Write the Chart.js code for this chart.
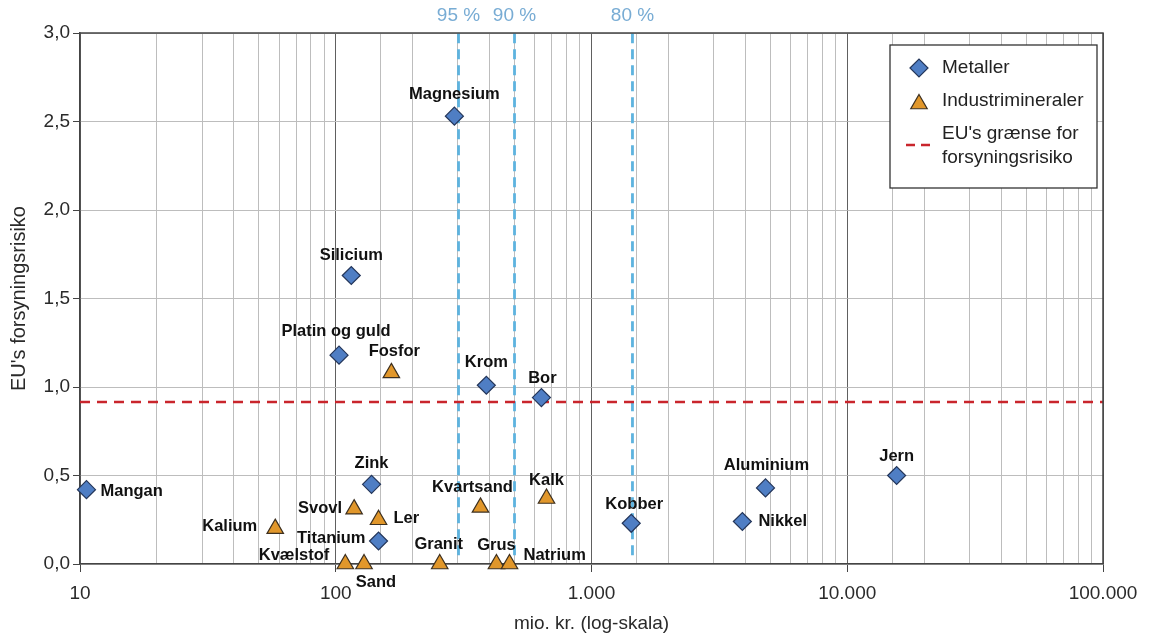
<!DOCTYPE html>
<html>
<head>
<meta charset="utf-8">
<script src="https://cdn.jsdelivr.net/npm/chart.js@4/dist/chart.umd.min.js"></script>
<style>
  html, body { margin: 0; padding: 0; background: #fff; }
  #wrap { width: 1151px; height: 638px; }
</style>
</head>
<body>
<div id="wrap"><canvas id="riskChart" width="1151" height="638"></canvas></div>
<script>
// Metaller
const metalNames = ['Mangan', 'Magnesium', 'Silicium', 'Platin og guld', 'Krom', 'Bor', 'Zink', 'Titanium', 'Kobber', 'Aluminium', 'Nikkel', 'Jern'];
const metalValue = [10.6, 291, 115, 103, 388, 637, 138, 147, 1430, 4790, 3890, 15600];
const metalRisk = [0.42, 2.53, 1.63, 1.18, 1.01, 0.94, 0.45, 0.13, 0.23, 0.43, 0.24, 0.5];

// Industrimineraler
const mineralNames = ['Kalium', 'Svovl', 'Ler', 'Kvælstof', 'Sand', 'Fosfor', 'Granit', 'Kvartsand', 'Kalk', 'Grus', 'Natrium'];
const mineralValue = [58, 118, 147, 109, 129, 165, 255, 368, 667, 425, 478];
const mineralRisk = [0.2, 0.31, 0.25, 0, 0, 1.08, 0, 0.32, 0.37, 0, 0];

// EU's grænse og percentiler
const euLimit = 0.915;
const percentileLabels = ['95 %', '90 %', '80 %'];
const percentileValues = [302, 500, 1446];

// akser
const xMin = 10, xMax = 100000;
const yMin = 0, yMax = 3;
const yTickStep = 0.5;

// label placering: [dx, dy, align]
const labelPos = {
  'Mangan': [14, 2, 'left'],
  'Magnesium': [0, -22, 'center'],
  'Silicium': [0, -20, 'center'],
  'Platin og guld': [-3, -24, 'center'],
  'Krom': [0, -23, 'center'],
  'Bor': [1, -19, 'center'],
  'Zink': [0, -21, 'center'],
  'Titanium': [-13, -3, 'right'],
  'Kobber': [3, -19, 'center'],
  'Aluminium': [1, -22, 'center'],
  'Nikkel': [16, 0, 'left'],
  'Jern': [0, -19, 'center'],
  'Kalium': [-18, -2, 'right'],
  'Svovl': [-12, -1, 'right'],
  'Ler': [15, -1, 'left'],
  'Kvælstof': [-16, -9, 'right'],
  'Sand': [12, 18, 'center'],
  'Fosfor': [3, -21, 'center'],
  'Granit': [-1, -20, 'center'],
  'Kvartsand': [-8, -20, 'center'],
  'Kalk': [0, -18, 'center'],
  'Grus': [0, -19, 'center'],
  'Natrium': [14, -9, 'left'],
};

const FONT = "'Liberation Sans', Arial, sans-serif";
const metalFill = '#4f7ec4';
const metalBorder = '#24365a';
const mineralFill = '#e1972b';
const mineralBorder = '#3d3020';
const euColor = '#c9252c';
const pctColor = '#5db3df';
const pctTextColor = '#78acd4';

function isDecade(v) {
  const l = Math.log10(v);
  return Math.abs(l - Math.round(l)) < 1e-6;
}

function fmtThousands(v) {
  return Math.round(v).toString().replace(/\B(?=(\d{3})+(?!\d))/g, '.');
}

// punkt labels + percentil tekst
const labelPlugin = {
  id: 'pointLabels',
  afterDatasetsDraw(chart) {
    const ctx = chart.ctx;
    ctx.save();
    ctx.font = 'bold 16.5px ' + FONT;
    ctx.fillStyle = '#111';
    ctx.textBaseline = 'middle';
    [0, 1].forEach((di) => {
      const meta = chart.getDatasetMeta(di);
      const names = di === 0 ? metalNames : mineralNames;
      meta.data.forEach((pt, i) => {
        const p = labelPos[names[i]] || [0, -20, 'center'];
        ctx.textAlign = p[2];
        ctx.fillText(names[i], pt.x + p[0], pt.y + p[1]);
      });
    });

    ctx.font = '19px ' + FONT;
    ctx.fillStyle = pctTextColor;
    ctx.textAlign = 'center';
    percentileValues.forEach((v, i) => {
      const x = chart.scales.x.getPixelForValue(v);
      ctx.fillText(percentileLabels[i], x, 16);
    });

    // ramme top og højre
    const a = chart.chartArea;
    ctx.strokeStyle = '#444';
    ctx.lineWidth = 1.5;
    ctx.beginPath();
    ctx.moveTo(a.left, a.top);
    ctx.lineTo(a.right, a.top);
    ctx.lineTo(a.right, a.bottom);
    ctx.stroke();
    ctx.restore();
  },
};

// forklaring med boks
const legendPlugin = {
  id: 'boxLegend',
  afterDraw(chart) {
    const ctx = chart.ctx;
    const bx = 890, by = 45, bw = 207, bh = 143;
    ctx.save();
    ctx.fillStyle = '#fff';
    ctx.fillRect(bx, by, bw, bh);
    ctx.strokeStyle = '#333';
    ctx.lineWidth = 1.3;
    ctx.strokeRect(bx, by, bw, bh);

    const mx = 919, tx = 942;
    ctx.font = '19px ' + FONT;
    ctx.textBaseline = 'middle';
    ctx.textAlign = 'left';

    const d0 = chart.data.datasets[0];
    const d1 = chart.data.datasets[1];
    ctx.lineWidth = 1.2;
    ctx.fillStyle = metalFill;
    ctx.strokeStyle = metalBorder;
    Chart.helpers.drawPoint(ctx, { pointStyle: 'rectRot', radius: 9, borderWidth: 1.2 }, mx, 68);
    ctx.fillStyle = mineralFill;
    ctx.strokeStyle = mineralBorder;
    Chart.helpers.drawPoint(ctx, { pointStyle: 'triangle', radius: 9.5, borderWidth: 1.2 }, mx, 104);

    ctx.strokeStyle = euColor;
    ctx.lineWidth = 2.5;
    ctx.setLineDash([9, 6]);
    ctx.beginPath();
    ctx.moveTo(906, 145);
    ctx.lineTo(934, 145);
    ctx.stroke();
    ctx.setLineDash([]);

    ctx.fillStyle = '#222';
    ctx.fillText(d0.label, tx, 68);
    ctx.fillText(d1.label, tx, 101);
    chart.data.datasets[2].label.split('\n').forEach((t, i) => {
      ctx.fillText(t, tx, 134 + i * 24);
    });
    ctx.restore();
  },
};

const datasets = [
  {
    label: 'Metaller',
    type: 'scatter',
    data: metalValue.map((v, i) => ({ x: v, y: metalRisk[i] })),
    pointStyle: 'rectRot',
    pointRadius: 9,
    backgroundColor: metalFill,
    borderColor: metalBorder,
    borderWidth: 1.2,
    clip: false,
  },
  {
    label: 'Industrimineraler',
    type: 'scatter',
    data: mineralValue.map((v, i) => ({ x: v, y: mineralRisk[i] })),
    pointStyle: 'triangle',
    pointRadius: 9.5,
    backgroundColor: mineralFill,
    borderColor: mineralBorder,
    borderWidth: 1.2,
    clip: false,
  },
  {
    label: "EU's grænse for\nforsyningsrisiko",
    type: 'line',
    data: [{ x: xMin, y: euLimit }, { x: xMax, y: euLimit }],
    borderColor: euColor,
    borderWidth: 2.5,
    borderDash: [10, 7],
    pointRadius: 0,
    fill: false,
  },
];

percentileValues.forEach((v, i) => {
  datasets.push({
    label: percentileLabels[i],
    type: 'line',
    data: [{ x: v, y: 0.05 }, { x: v, y: yMax }],
    borderColor: pctColor,
    borderWidth: 2.8,
    borderDash: [10, 6],
    pointRadius: 0,
    fill: false,
  });
});

const ctx = document.getElementById('riskChart').getContext('2d');
const chart = new Chart(ctx, {
  type: 'scatter',
  data: { datasets: datasets },
  options: {
    responsive: false,
    animation: false,
    layout: { padding: { left: 0, top: 33, right: 48, bottom: 0 } },
    plugins: {
      legend: { display: false },
      tooltip: { enabled: false },
    },
    scales: {
      x: {
        type: 'logarithmic',
        min: xMin,
        max: xMax,
        afterFit: (scale) => { scale.height = 74; },
        border: { color: '#444', width: 1.5 },
        grid: {
          color: (c) => (c.tick && isDecade(c.tick.value) ? '#606060' : '#bdbdbd'),
          lineWidth: 1,
          tickLength: 8,
          tickColor: (c) => (c.tick && isDecade(c.tick.value) ? '#444' : 'rgba(0,0,0,0)'),
        },
        ticks: {
          autoSkip: false,
          maxRotation: 0,
          padding: 10,
          color: '#2a2a2a',
          font: { family: FONT, size: 19 },
          callback: (v) => (isDecade(v) ? fmtThousands(v) : ''),
        },
        title: {
          display: true,
          text: 'mio. kr. (log-skala)',
          color: '#2a2a2a',
          font: { family: FONT, size: 19 },
          padding: { top: 0, bottom: 3 },
        },
      },
      y: {
        min: yMin,
        max: yMax,
        afterFit: (scale) => { scale.width = 80; },
        border: { color: '#444', width: 1.5 },
        grid: {
          color: '#bdbdbd',
          lineWidth: 1,
          tickLength: 7,
          tickColor: '#444',
        },
        ticks: {
          stepSize: yTickStep,
          padding: 3,
          color: '#2a2a2a',
          font: { family: FONT, size: 19 },
          callback: (v) => v.toFixed(1).replace('.', ','),
        },
        title: {
          display: true,
          text: "EU's forsyningsrisiko",
          color: '#2a2a2a',
          font: { family: FONT, size: 20 },
          padding: { top: 7, bottom: 0 },
        },
      },
    },
  },
  plugins: [labelPlugin, legendPlugin],
});
</script>
</body>
</html>
